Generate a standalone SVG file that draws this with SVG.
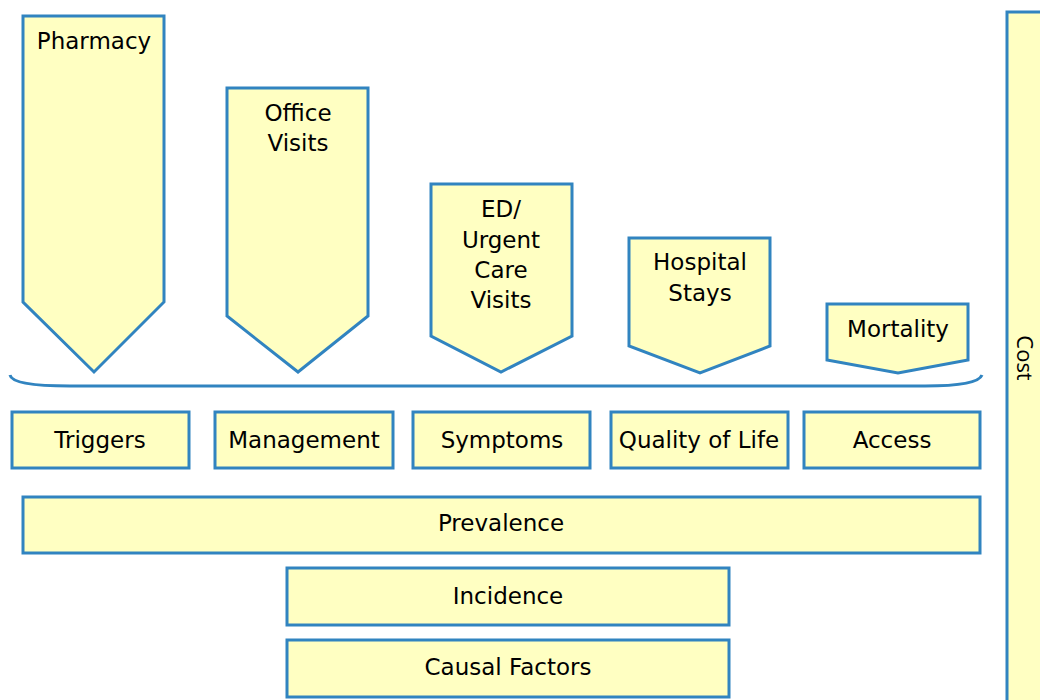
<svg xmlns="http://www.w3.org/2000/svg" width="1040" height="700" viewBox="0 0 1040 700">
<style>
.n{fill:#FFFFC2;stroke:#3184C0;stroke-width:3}
.t{font-family:"DejaVu Sans",Verdana,sans-serif;font-size:23px;fill:#000;text-anchor:middle}
.c{font-family:"Open Sans","Liberation Sans",sans-serif;font-size:22px;fill:#000;text-anchor:middle}
.br{fill:none;stroke:#3184C0;stroke-width:3}
</style>
<rect width="1040" height="700" fill="#fff"/>
<g id="pharmacy"><polygon class="n" points="23,16 164,16 164,302 94,372 23,302"/><text class="t" x="94" y="49">Pharmacy</text></g>
<g id="office-visits"><polygon class="n" points="227,88 368,88 368,316 298,372 227,316"/><text class="t" x="298" y="121">Office</text><text class="t" x="298" y="151">Visits</text></g>
<g id="ed-visits"><polygon class="n" points="431,184 572,184 572,336 501,372 431,336"/><text class="t" x="501" y="217">ED/</text><text class="t" x="501" y="248">Urgent</text><text class="t" x="501" y="278">Care</text><text class="t" x="501" y="308">Visits</text></g>
<g id="hospital-stays"><polygon class="n" points="629,238 770,238 770,346 700,373 629,346"/><text class="t" x="700" y="270">Hospital</text><text class="t" x="700" y="301">Stays</text></g>
<g id="mortality"><polygon class="n" points="827,304 968,304 968,360 898,373 827,360"/><text class="t" x="898" y="337">Mortality</text></g>
<g id="connectors"><path class="br" d="M10,375 Q12,386 70,386 L925,386 Q978,386 982,375"/></g>
<g id="triggers"><rect class="n" x="12" y="412" width="177" height="56"/><text class="t" x="100" y="448">Triggers</text></g>
<g id="management"><rect class="n" x="215" y="412" width="178" height="56"/><text class="t" x="304" y="448">Management</text></g>
<g id="symptoms"><rect class="n" x="413" y="412" width="177" height="56"/><text class="t" x="502" y="448">Symptoms</text></g>
<g id="quality-of-life"><rect class="n" x="611" y="412" width="177" height="56"/><text class="t" x="699" y="448">Quality of Life</text></g>
<g id="access"><rect class="n" x="804" y="412" width="176" height="56"/><text class="t" x="892" y="448">Access</text></g>
<g id="prevalence"><rect class="n" x="23" y="497" width="957" height="56"/><text class="t" x="501" y="531">Prevalence</text></g>
<g id="incidence"><rect class="n" x="287" y="568" width="442" height="57"/><text class="t" x="508" y="604">Incidence</text></g>
<g id="causal-factors"><rect class="n" x="287" y="640" width="442" height="57"/><text class="t" x="508" y="675">Causal Factors</text></g>
<g id="cost"><rect class="n" x="1007" y="12" width="40" height="700"/><text class="c" transform="translate(1025,358) rotate(90)" x="0" y="8">Cost</text></g>
</svg>
